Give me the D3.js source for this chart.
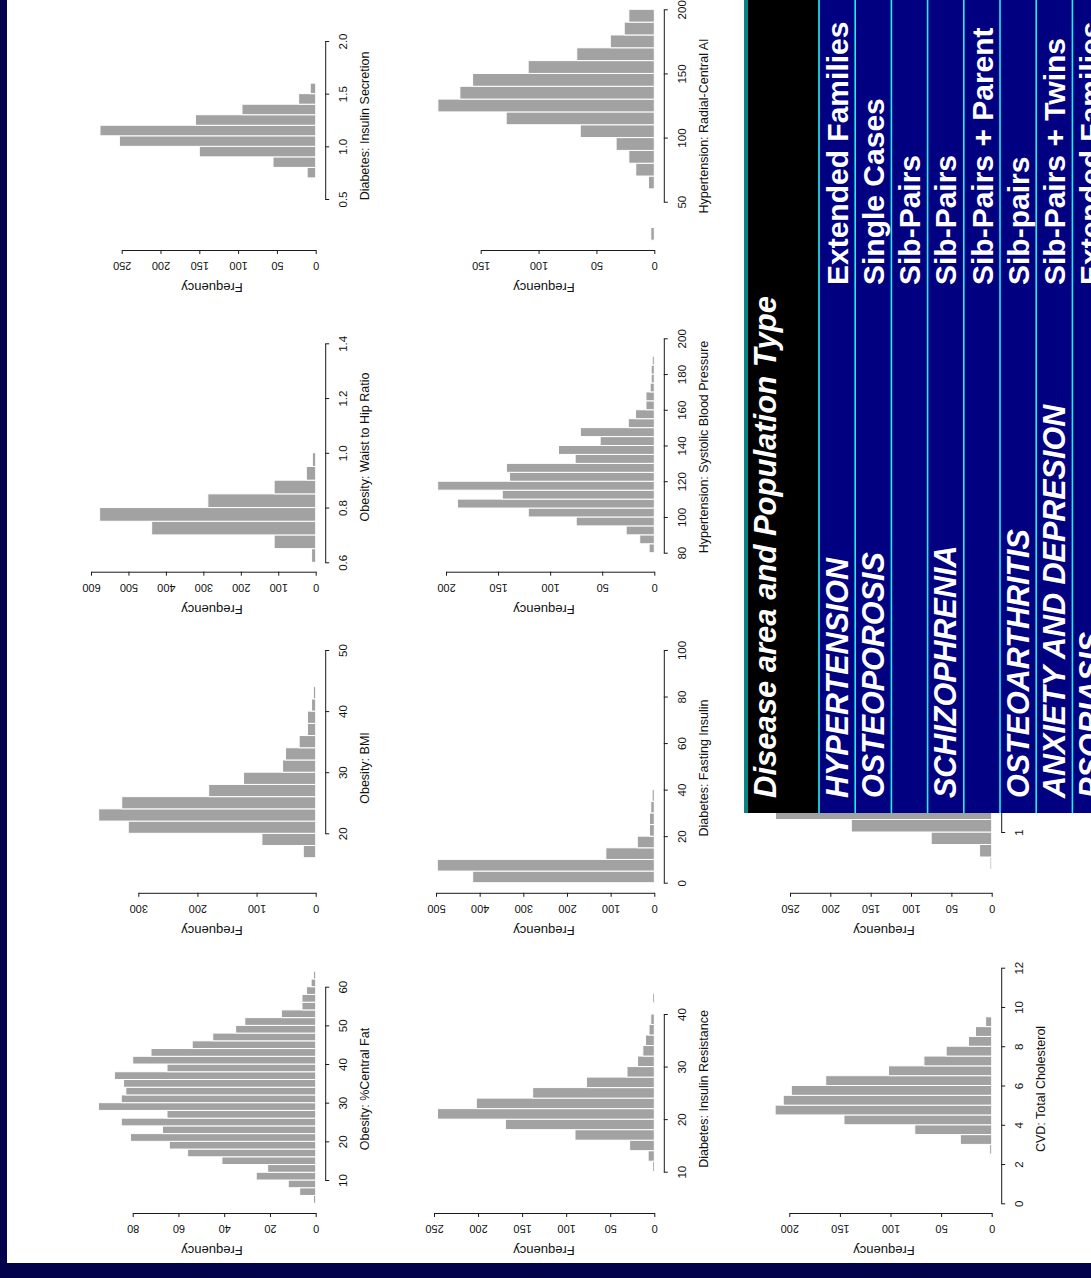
<!DOCTYPE html>
<html>
<head>
<meta charset="utf-8">
<title>Trait distributions and study populations</title>
<script src="https://cdn.jsdelivr.net/npm/d3@7"></script>
<style>
  html, body { margin: 0; padding: 0; background: #ffffff; }
  svg { display: block; }
</style>
</head>
<body>
<svg id="chart" width="1091" height="1278"></svg>
<script>
// ---------- Histogram counts, lowest bin first ----------
const insulinSecretionCounts = [11, 55, 150, 253, 278, 155, 95, 22, 7];            // bins of 0.1 from 0.7
const waistHipCounts = [11, 111, 438, 577, 288, 111, 25, 9];                        // bins of 0.05 from 0.6
const bmiCounts = [21, 91, 317, 367, 328, 181, 122, 56, 51, 28, 14, 14, 7, 4];      // bins of 2 from 16
const centralFatCounts = [1, 7, 12, 26, 21, 41, 56, 64, 81, 67, 85, 65, 95, 85, 83,
                          84, 88, 65, 80, 72, 54, 45, 35, 31, 15, 6, 6, 4, 2, 1];   // bins of 2 from 4
const radialAICounts = [3, 0, 0, 0, 5, 16, 22, 33, 64, 128, 187, 168, 157, 109, 67, 38, 26, 22]; // bins of 10 from 20
const systolicCounts = [5, 14, 27, 75, 121, 189, 146, 208, 139, 142, 76, 92, 52, 71,
                        25, 18, 8, 8, 4, 3, 3, 2];                                  // bins of 5 from 80
const fastingInsulinCounts = [416, 497, 111, 39, 11, 11, 8, 5];                     // bins of 5 from 0
const insulinResistanceCounts = [2, 7, 28, 90, 169, 246, 202, 138, 77, 31, 19, 13, 10, 6, 4, 0, 2]; // bins of 2 from 10
const cholesterolCounts = [2, 31, 76, 146, 214, 206, 198, 164, 102, 67, 45, 23, 16, 6]; // bins of 0.5 from 2.5
const cvdSecondCounts = [2, 15, 75, 174, 268];                                      // bins of 0.1 from 0.7

// ---------- Value-axis tick labels ----------
const insulinSecretionTicks = [0.5, 1.0, 1.5, 2.0];
const waistHipTicks = [0.6, 0.8, 1.0, 1.2, 1.4];
const bmiTicks = [20, 30, 40, 50];
const centralFatTicks = [10, 20, 30, 40, 50, 60];
const radialAITicks = [50, 100, 150, 200];
const systolicTicks = [80, 100, 120, 140, 160, 180, 200];
const fastingInsulinTicks = [0, 20, 40, 60, 80, 100];
const insulinResistanceTicks = [10, 20, 30, 40];
const cholesterolTicks = [0, 2, 4, 6, 8, 10, 12];
const cvdSecondTicks = [1, 2, 3];

// ---------- Frequency-axis tick labels ----------
const freqTicks80 = [0, 20, 40, 60, 80];
const freqTicks150 = [0, 50, 100, 150];
const freqTicks200 = [0, 50, 100, 150, 200];
const freqTicks250 = [0, 50, 100, 150, 200, 250];
const freqTicks300 = [0, 100, 200, 300];
const freqTicks500 = [0, 100, 200, 300, 400, 500];
const freqTicks600 = [0, 100, 200, 300, 400, 500, 600];

// ---------- Table text ----------
const tableHeader = "Disease area and Population Type";
const diseaseAreas = ["HYPERTENSION", "OSTEOPOROSIS", "", "SCHIZOPHRENIA", "",
                      "OSTEOARTHRITIS", "ANXIETY AND DEPRESION", "PSORIASIS"];
const populationTypes = ["Extended Families", "Single Cases", "Sib-Pairs", "Sib-Pairs",
                         "Sib-Pairs + Parent", "Sib-pairs", "Sib-Pairs + Twins", "Extended Families"];

// Histogram definitions built from the arrays above
const histograms = [
  { title: "Diabetes: Insulin Secretion", counts: insulinSecretionCounts, binStart: 0.7, binWidth: 0.1,
    valueTicks: insulinSecretionTicks, freqTicks: freqTicks250, fmt: ".1f" },
  { title: "Obesity: Waist to Hip Ratio", counts: waistHipCounts, binStart: 0.6, binWidth: 0.05,
    valueTicks: waistHipTicks, freqTicks: freqTicks600, fmt: ".1f" },
  { title: "Obesity: BMI", counts: bmiCounts, binStart: 16, binWidth: 2,
    valueTicks: bmiTicks, freqTicks: freqTicks300, fmt: "d" },
  { title: "Obesity: %Central Fat", counts: centralFatCounts, binStart: 4, binWidth: 2,
    valueTicks: centralFatTicks, freqTicks: freqTicks80, fmt: "d" },
  { title: "Hypertension: Radial-Central AI", counts: radialAICounts, binStart: 20, binWidth: 10,
    valueTicks: radialAITicks, freqTicks: freqTicks150, fmt: "d" },
  { title: "Hypertension: Systolic Blood Pressure", counts: systolicCounts, binStart: 80, binWidth: 5,
    valueTicks: systolicTicks, freqTicks: freqTicks200, fmt: "d" },
  { title: "Diabetes: Fasting Insulin", counts: fastingInsulinCounts, binStart: 0, binWidth: 5,
    valueTicks: fastingInsulinTicks, freqTicks: freqTicks500, fmt: "d" },
  { title: "Diabetes: Insulin Resistance", counts: insulinResistanceCounts, binStart: 10, binWidth: 2,
    valueTicks: insulinResistanceTicks, freqTicks: freqTicks250, fmt: "d" },
  { title: "CVD: Total Cholesterol", counts: cholesterolCounts, binStart: 2.5, binWidth: 0.5,
    valueTicks: cholesterolTicks, freqTicks: freqTicks200, fmt: "d" },
  { title: "", counts: cvdSecondCounts, binStart: 0.7, binWidth: 0.1,
    valueTicks: cvdSecondTicks, freqTicks: freqTicks250, fmt: "d" }
];

// Where each histogram sits on the page (the slide is turned a quarter to the left):
// valueY = page y of the first and last value tick, freqEndX = page x of the last frequency tick
const panelLayout = [
  { col: 0, row: 0, valueY: [199, 41],       freqEndX: 121.7 },
  { col: 0, row: 1, valueY: [562.3, 343.3],  freqEndX: 91 },
  { col: 0, row: 2, valueY: [833.3, 650],    freqEndX: 138.3 },
  { col: 0, row: 3, valueY: [1180, 986.7],   freqEndX: 132.7 },
  { col: 1, row: 0, valueY: [201.7, 9.3],    freqEndX: 480.7 },
  { col: 1, row: 1, valueY: [552.7, 338.3],  freqEndX: 446 },
  { col: 1, row: 2, valueY: [882.7, 650],    freqEndX: 436 },
  { col: 1, row: 3, valueY: [1171.7, 1014],  freqEndX: 434 },
  { col: 2, row: 3, valueY: [1203.3, 967.7], freqEndX: 789.3 },
  { col: 2, row: 2, valueY: [832, 582],      freqEndX: 790 }
];

const columnZeroX = [315.7, 654.3, 991.7];   // x of zero frequency in each column
const columnFreqLabelX = [212, 544, 884];    // centre of the "Frequency" label
const rowAxisY = [250, 571.7, 892.8, 1213];  // y of the frequency axis in each row
const rowTitleY = [126, 447, 768, 1089];     // centre of the value-axis title

const W = 1091, H = 1278;
const FONT = "'Liberation Sans', Arial, Helvetica, sans-serif";
const svg = d3.select("#chart");

svg.append("rect").attr("width", W).attr("height", H).attr("fill", "#ffffff");

const plots = svg.append("g").attr("class", "histograms");

histograms.forEach((h, i) => {
  const L = panelLayout[i];
  const zeroX = columnZeroX[L.col];
  const axisX = zeroX + 9.5;
  const axisY = rowAxisY[L.row];
  const vt = h.valueTicks, ft = h.freqTicks;

  const y = d3.scaleLinear().domain([vt[0], vt[vt.length - 1]]).range(L.valueY);
  const x = d3.scaleLinear().domain([0, ft[ft.length - 1]]).range([zeroX, L.freqEndX]);

  const bins = h.counts
    .map((c, k) => ({ lo: h.binStart + k * h.binWidth, hi: h.binStart + (k + 1) * h.binWidth, count: c }))
    .filter(b => b.count > 0);

  const g = plots.append("g");

  g.selectAll("rect.bar").data(bins).join("rect")
    .attr("class", "bar")
    .attr("x", d => x(d.count))
    .attr("y", d => y(d.hi))
    .attr("width", d => zeroX - x(d.count))
    .attr("height", d => y(d.lo) - y(d.hi))
    .attr("fill", "#a2a2a2")
    .attr("stroke", "#ffffff")
    .attr("stroke-width", 1);

  // value axis (runs up the page)
  const vAxis = g.append("g")
    .attr("transform", `translate(${axisX},0)`)
    .call(d3.axisRight(y).tickValues(vt).tickFormat(d3.format(h.fmt)).tickSize(4).tickSizeOuter(0));
  vAxis.attr("font-family", FONT).attr("font-size", 11.5).attr("color", "#1a1a1a");
  vAxis.selectAll(".tick text")
    .attr("x", null).attr("dy", null)
    .attr("text-anchor", "middle")
    .attr("fill", "#111")
    .attr("transform", "translate(22,0) rotate(-90)");

  // frequency axis (grows to the left)
  const fAxis = g.append("g")
    .attr("transform", `translate(0,${axisY})`)
    .call(d3.axisBottom(x).tickValues(ft).tickFormat(d3.format("d")).tickSize(4).tickSizeOuter(0));
  fAxis.attr("font-family", FONT).attr("font-size", 11).attr("color", "#1a1a1a");
  fAxis.selectAll(".tick text")
    .attr("y", null).attr("dy", null)
    .attr("text-anchor", "middle")
    .attr("fill", "#111")
    .attr("transform", "translate(0,12) rotate(180)");

  g.append("text")
    .attr("transform", `translate(${columnFreqLabelX[L.col]},${axisY + 33}) rotate(180)`)
    .attr("text-anchor", "middle")
    .attr("font-family", FONT).attr("font-size", 13).attr("fill", "#111")
    .text("Frequency");

  if (h.title) {
    g.append("text")
      .attr("transform", `translate(${axisX + 44},${rowTitleY[L.row]}) rotate(-90)`)
      .attr("text-anchor", "middle")
      .attr("font-family", FONT).attr("font-size", 12.5).attr("fill", "#111")
      .text(h.title);
  }
});

// ---------- Study table ----------
const tableBottom = 813;
const rowWidth = 36.2;
const rowsX = d3.scaleBand()
  .domain(d3.range(populationTypes.length))
  .range([819, 819 + rowWidth * populationTypes.length]);

const table = svg.append("g").attr("class", "table");

table.append("rect").attr("x", 744).attr("y", 0).attr("width", 4).attr("height", tableBottom).attr("fill", "#0a8585");
table.append("rect").attr("x", 748).attr("y", 0).attr("width", 71).attr("height", tableBottom).attr("fill", "#000000");

table.selectAll("rect.row").data(populationTypes).join("rect")
  .attr("class", "row")
  .attr("x", (d, i) => rowsX(i))
  .attr("y", 0)
  .attr("width", rowsX.bandwidth())
  .attr("height", tableBottom)
  .attr("fill", "#000080");

table.selectAll("rect.sep").data(populationTypes).join("rect")
  .attr("class", "sep")
  .attr("x", (d, i) => rowsX(i) - 0.8)
  .attr("y", 0)
  .attr("width", 1.6)
  .attr("height", tableBottom)
  .attr("fill", "#1cf0f0");

table.append("text")
  .attr("transform", "translate(776,798) rotate(-90)")
  .attr("font-family", FONT).attr("font-size", 31)
  .attr("font-weight", "bold").attr("font-style", "italic")
  .attr("fill", "#ffffff")
  .text(tableHeader);

table.selectAll("text.disease").data(diseaseAreas).join("text")
  .attr("class", "disease")
  .attr("transform", (d, i) => `translate(${rowsX(i) + 28.7},798) rotate(-90)`)
  .attr("font-family", FONT).attr("font-size", 30.5)
  .attr("font-weight", "bold").attr("font-style", "italic")
  .attr("fill", "#ffffff")
  .text(d => d);

table.selectAll("text.population").data(populationTypes).join("text")
  .attr("class", "population")
  .attr("transform", (d, i) => `translate(${rowsX(i) + 28.7},285) rotate(-90)`)
  .attr("font-family", FONT).attr("font-size", 30)
  .attr("font-weight", "bold")
  .attr("fill", "#ffffff")
  .text(d => d);

// ---------- Slide frame ----------
svg.append("rect").attr("x", 0).attr("y", 0).attr("width", 7).attr("height", H).attr("fill", "#03034c");
svg.append("rect").attr("x", 0).attr("y", 1263).attr("width", W).attr("height", H - 1263).attr("fill", "#03034c");
</script>
</body>
</html>
